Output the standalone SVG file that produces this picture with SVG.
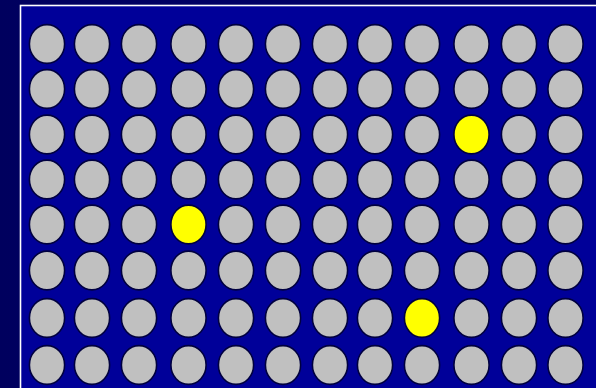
<svg xmlns="http://www.w3.org/2000/svg" width="596" height="388" viewBox="0 0 596 388">
<defs>
<linearGradient id="bg" x1="0" y1="0" x2="1" y2="0">
<stop offset="0" stop-color="#00005e"/>
<stop offset="1" stop-color="#000070"/>
</linearGradient>
<style>
.c{fill:#c0c0c0;stroke:#000040;stroke-width:1.6}
.y{fill:#ffff00;stroke:#000040;stroke-width:1.6}
</style>
</defs>
<rect x="0" y="0" width="596" height="388" fill="url(#bg)"/>
<rect id="board" x="20.5" y="5.5" width="590" height="400" fill="#000099" stroke="#ffffff" stroke-width="1.6"/>
<g id="cells">
<g id="r0"><ellipse class="c" cx="47" cy="44" rx="17.6" ry="19.4"/><ellipse class="c" cx="92" cy="44" rx="17.6" ry="19.4"/><ellipse class="c" cx="139" cy="44" rx="17.6" ry="19.4"/><ellipse class="c" cx="188.5" cy="44" rx="17.6" ry="19.4"/><ellipse class="c" cx="236" cy="44" rx="17.6" ry="19.4"/><ellipse class="c" cx="283" cy="44" rx="17.6" ry="19.4"/><ellipse class="c" cx="330" cy="44" rx="17.6" ry="19.4"/><ellipse class="c" cx="375" cy="44" rx="17.6" ry="19.4"/><ellipse class="c" cx="422" cy="44" rx="17.6" ry="19.4"/><ellipse class="c" cx="471.5" cy="44" rx="17.6" ry="19.4"/><ellipse class="c" cx="519" cy="44" rx="17.6" ry="19.4"/><ellipse class="c" cx="565.5" cy="44" rx="17.6" ry="19.4"/></g>
<g id="r1"><ellipse class="c" cx="47" cy="89" rx="17.6" ry="19.4"/><ellipse class="c" cx="92" cy="89" rx="17.6" ry="19.4"/><ellipse class="c" cx="139" cy="89" rx="17.6" ry="19.4"/><ellipse class="c" cx="188.5" cy="89" rx="17.6" ry="19.4"/><ellipse class="c" cx="236" cy="89" rx="17.6" ry="19.4"/><ellipse class="c" cx="283" cy="89" rx="17.6" ry="19.4"/><ellipse class="c" cx="330" cy="89" rx="17.6" ry="19.4"/><ellipse class="c" cx="375" cy="89" rx="17.6" ry="19.4"/><ellipse class="c" cx="422" cy="89" rx="17.6" ry="19.4"/><ellipse class="c" cx="471.5" cy="89" rx="17.6" ry="19.4"/><ellipse class="c" cx="519" cy="89" rx="17.6" ry="19.4"/><ellipse class="c" cx="565.5" cy="89" rx="17.6" ry="19.4"/></g>
<g id="r2"><ellipse class="c" cx="47" cy="134.5" rx="17.6" ry="19.4"/><ellipse class="c" cx="92" cy="134.5" rx="17.6" ry="19.4"/><ellipse class="c" cx="139" cy="134.5" rx="17.6" ry="19.4"/><ellipse class="c" cx="188.5" cy="134.5" rx="17.6" ry="19.4"/><ellipse class="c" cx="236" cy="134.5" rx="17.6" ry="19.4"/><ellipse class="c" cx="283" cy="134.5" rx="17.6" ry="19.4"/><ellipse class="c" cx="330" cy="134.5" rx="17.6" ry="19.4"/><ellipse class="c" cx="375" cy="134.5" rx="17.6" ry="19.4"/><ellipse class="c" cx="422" cy="134.5" rx="17.6" ry="19.4"/><ellipse class="y" cx="471.5" cy="134.5" rx="17.6" ry="19.4"/><ellipse class="c" cx="519" cy="134.5" rx="17.6" ry="19.4"/><ellipse class="c" cx="565.5" cy="134.5" rx="17.6" ry="19.4"/></g>
<g id="r3"><ellipse class="c" cx="47" cy="179.5" rx="17.6" ry="19.4"/><ellipse class="c" cx="92" cy="179.5" rx="17.6" ry="19.4"/><ellipse class="c" cx="139" cy="179.5" rx="17.6" ry="19.4"/><ellipse class="c" cx="188.5" cy="179.5" rx="17.6" ry="19.4"/><ellipse class="c" cx="236" cy="179.5" rx="17.6" ry="19.4"/><ellipse class="c" cx="283" cy="179.5" rx="17.6" ry="19.4"/><ellipse class="c" cx="330" cy="179.5" rx="17.6" ry="19.4"/><ellipse class="c" cx="375" cy="179.5" rx="17.6" ry="19.4"/><ellipse class="c" cx="422" cy="179.5" rx="17.6" ry="19.4"/><ellipse class="c" cx="471.5" cy="179.5" rx="17.6" ry="19.4"/><ellipse class="c" cx="519" cy="179.5" rx="17.6" ry="19.4"/><ellipse class="c" cx="565.5" cy="179.5" rx="17.6" ry="19.4"/></g>
<g id="r4"><ellipse class="c" cx="47" cy="224.5" rx="17.6" ry="19.4"/><ellipse class="c" cx="92" cy="224.5" rx="17.6" ry="19.4"/><ellipse class="c" cx="139" cy="224.5" rx="17.6" ry="19.4"/><ellipse class="y" cx="188.5" cy="224.5" rx="17.6" ry="19.4"/><ellipse class="c" cx="236" cy="224.5" rx="17.6" ry="19.4"/><ellipse class="c" cx="283" cy="224.5" rx="17.6" ry="19.4"/><ellipse class="c" cx="330" cy="224.5" rx="17.6" ry="19.4"/><ellipse class="c" cx="375" cy="224.5" rx="17.6" ry="19.4"/><ellipse class="c" cx="422" cy="224.5" rx="17.6" ry="19.4"/><ellipse class="c" cx="471.5" cy="224.5" rx="17.6" ry="19.4"/><ellipse class="c" cx="519" cy="224.5" rx="17.6" ry="19.4"/><ellipse class="c" cx="565.5" cy="224.5" rx="17.6" ry="19.4"/></g>
<g id="r5"><ellipse class="c" cx="47" cy="270.5" rx="17.6" ry="19.4"/><ellipse class="c" cx="92" cy="270.5" rx="17.6" ry="19.4"/><ellipse class="c" cx="139" cy="270.5" rx="17.6" ry="19.4"/><ellipse class="c" cx="188.5" cy="270.5" rx="17.6" ry="19.4"/><ellipse class="c" cx="236" cy="270.5" rx="17.6" ry="19.4"/><ellipse class="c" cx="283" cy="270.5" rx="17.6" ry="19.4"/><ellipse class="c" cx="330" cy="270.5" rx="17.6" ry="19.4"/><ellipse class="c" cx="375" cy="270.5" rx="17.6" ry="19.4"/><ellipse class="c" cx="422" cy="270.5" rx="17.6" ry="19.4"/><ellipse class="c" cx="471.5" cy="270.5" rx="17.6" ry="19.4"/><ellipse class="c" cx="519" cy="270.5" rx="17.6" ry="19.4"/><ellipse class="c" cx="565.5" cy="270.5" rx="17.6" ry="19.4"/></g>
<g id="r6"><ellipse class="c" cx="47" cy="318" rx="17.6" ry="19.4"/><ellipse class="c" cx="92" cy="318" rx="17.6" ry="19.4"/><ellipse class="c" cx="139" cy="318" rx="17.6" ry="19.4"/><ellipse class="c" cx="188.5" cy="318" rx="17.6" ry="19.4"/><ellipse class="c" cx="236" cy="318" rx="17.6" ry="19.4"/><ellipse class="c" cx="283" cy="318" rx="17.6" ry="19.4"/><ellipse class="c" cx="330" cy="318" rx="17.6" ry="19.4"/><ellipse class="c" cx="375" cy="318" rx="17.6" ry="19.4"/><ellipse class="y" cx="422" cy="318" rx="17.6" ry="19.4"/><ellipse class="c" cx="471.5" cy="318" rx="17.6" ry="19.4"/><ellipse class="c" cx="519" cy="318" rx="17.6" ry="19.4"/><ellipse class="c" cx="565.5" cy="318" rx="17.6" ry="19.4"/></g>
<g id="r7"><ellipse class="c" cx="47" cy="365" rx="17.6" ry="19.4"/><ellipse class="c" cx="92" cy="365" rx="17.6" ry="19.4"/><ellipse class="c" cx="139" cy="365" rx="17.6" ry="19.4"/><ellipse class="c" cx="188.5" cy="365" rx="17.6" ry="19.4"/><ellipse class="c" cx="236" cy="365" rx="17.6" ry="19.4"/><ellipse class="c" cx="283" cy="365" rx="17.6" ry="19.4"/><ellipse class="c" cx="330" cy="365" rx="17.6" ry="19.4"/><ellipse class="c" cx="375" cy="365" rx="17.6" ry="19.4"/><ellipse class="c" cx="422" cy="365" rx="17.6" ry="19.4"/><ellipse class="c" cx="471.5" cy="365" rx="17.6" ry="19.4"/><ellipse class="c" cx="519" cy="365" rx="17.6" ry="19.4"/><ellipse class="c" cx="565.5" cy="365" rx="17.6" ry="19.4"/></g>
</g>
</svg>
